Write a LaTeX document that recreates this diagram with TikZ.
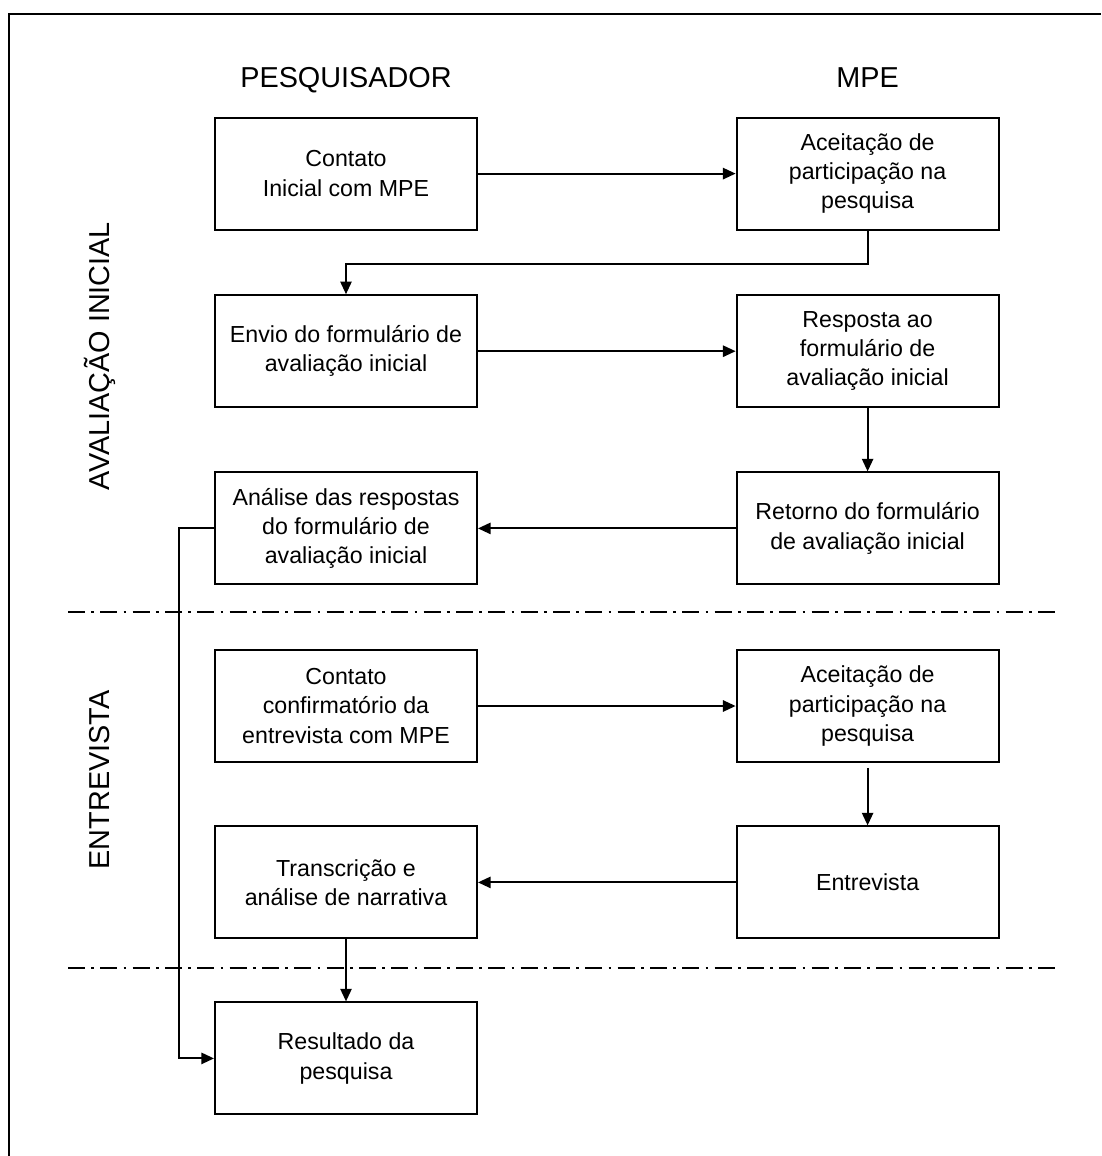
\documentclass[tikz,border=0pt]{standalone}
\usepackage{fontspec}
\setmainfont{Liberation Sans}
\usetikzlibrary{arrows.meta,positioning}

\begin{document}
\begin{tikzpicture}[every node/.style={font=\fontsize{16.5}{20.8}\selectfont},
  etapa/.style={draw,line width=1.4pt,minimum width=6.55cm,minimum height=2.8cm,align=center,inner sep=2pt},
  titulo/.style={font=\fontsize{20.5}{24}\selectfont},
  seta/.style={line width=1.4pt,-{Triangle[length=9pt,width=8pt]}},
  fase/.style={line width=1.4pt,dash pattern=on 12pt off 4.5pt on 2pt off 4.5pt}]
\useasboundingbox (0,0) rectangle (27.525,-28.9);
% moldura
\draw[line width=2pt] (0.225,-28.9) -- (0.225,-0.35) -- (27.525,-0.35);
% cabecalhos
\node[titulo,anchor=base] (pesq) at (8.65,-2.18) {PESQUISADOR};
\node[titulo,anchor=base] (mpe) at (21.69,-2.18) {MPE};
\node[titulo,rotate=90] (aval) at (2.5,-8.9) {AVALIAÇÃO INICIAL};
\node[titulo,rotate=90] (entr) at (2.5,-19.5) {ENTREVISTA};
% divisoes
\draw[fase] (1.7,-15.3) -- (26.375,-15.3);
\draw[fase] (1.7,-24.2) -- (26.375,-24.2);
% etapas
\node[etapa] (contato) at (8.65,-4.34) {Contato\\Inicial com MPE};
\node[etapa] (aceite) at (21.69,-4.34) {Aceitação de\\participação na\\pesquisa};
\node[etapa] (envio) at (8.65,-8.78) {Envio do formulário de\\avaliação inicial};
\node[etapa] (resposta) at (21.69,-8.78) {Resposta ao\\formulário de\\avaliação inicial};
\node[etapa] (analise) at (8.65,-13.21) {Análise das respostas\\do formulário de\\avaliação inicial};
\node[etapa] (retorno) at (21.69,-13.21) {Retorno do formulário\\de avaliação inicial};
\node[etapa] (confirma) at (8.65,-17.65) {Contato\\confirmatório da\\entrevista com MPE};
\node[etapa] (aceite2) at (21.69,-17.65) {Aceitação de\\participação na\\pesquisa};
\node[etapa] (transc) at (8.65,-22.06) {Transcrição e\\análise de narrativa};
\node[etapa] (entrev) at (21.69,-22.06) {Entrevista};
\node[etapa] (result) at (8.65,-26.46) {Resultado da\\pesquisa};
% fluxo
\draw[seta] (contato) -- (aceite);
\draw[seta] (aceite.south) -- ++(0,-0.83) -| (envio.north);
\draw[seta] (envio) -- (resposta);
\draw[seta] (resposta) -- (retorno);
\draw[seta] (retorno) -- (analise);
\draw[seta] (analise.west) -- ++(-0.875,0) |- (result.west);
\draw[seta] (confirma) -- (aceite2);
\draw[seta] ([yshift=-0.12cm]aceite2.south) -- (entrev);
\draw[seta] (entrev) -- (transc);
\draw[seta] (transc) -- (result);
\end{tikzpicture}
\end{document}
